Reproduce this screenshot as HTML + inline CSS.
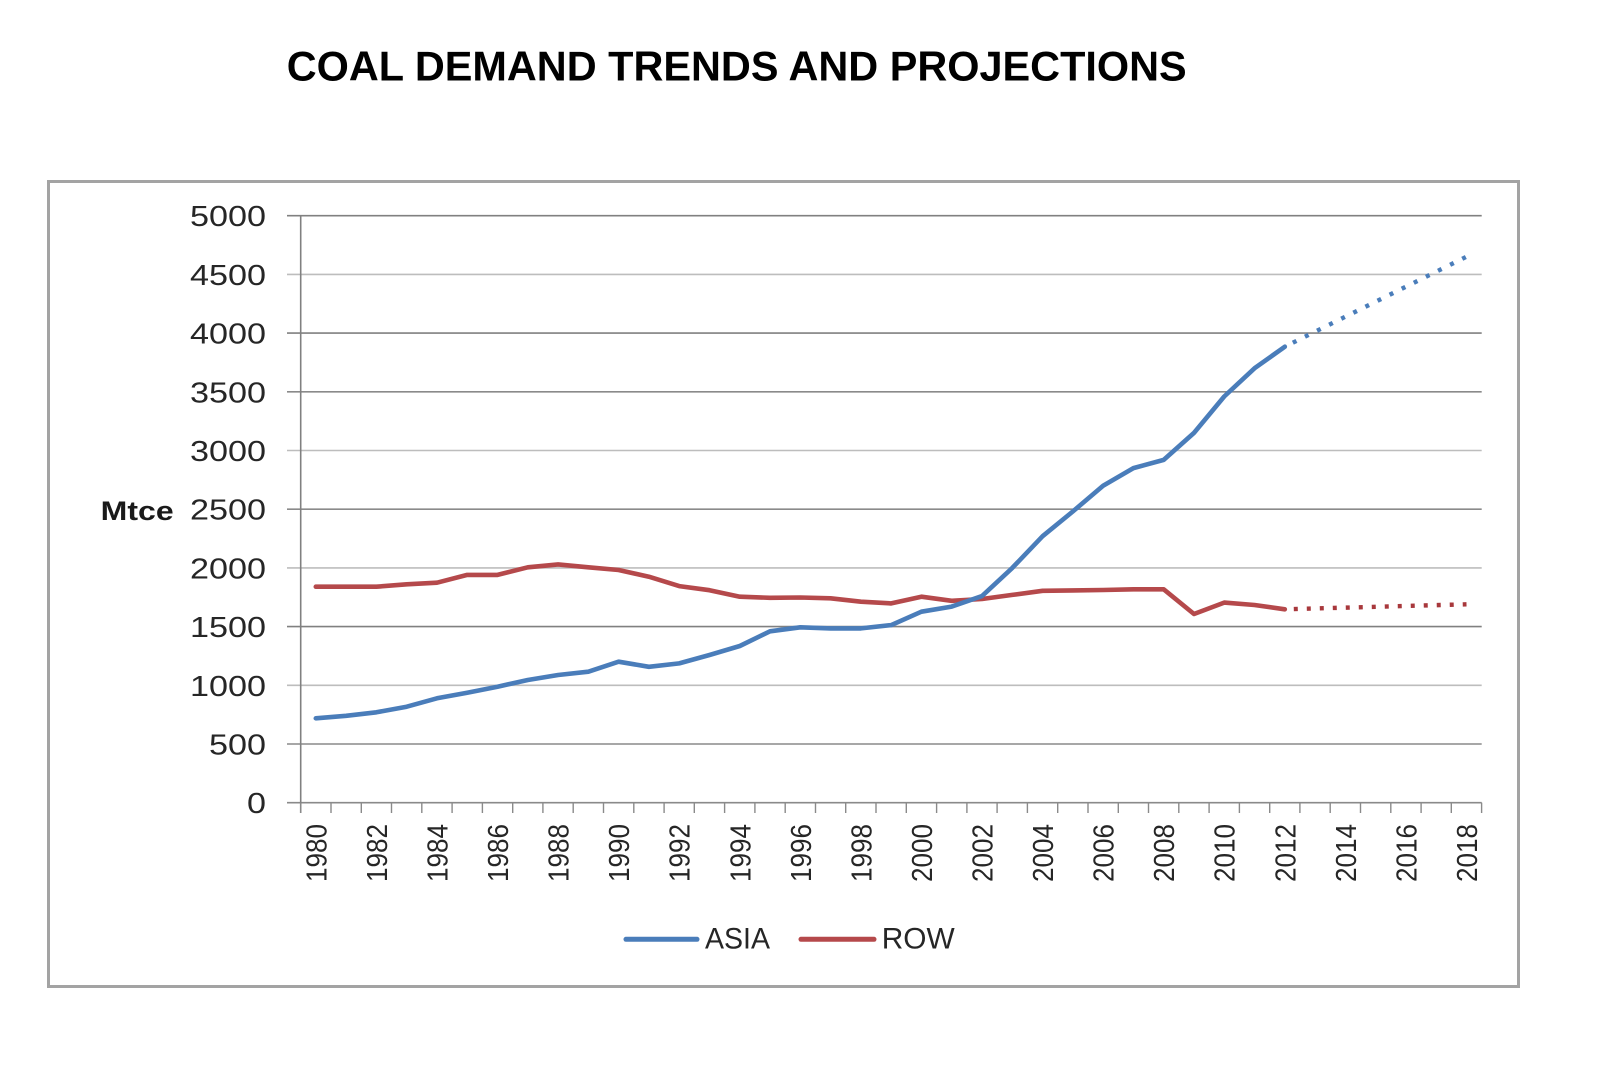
<!DOCTYPE html>
<html>
<head>
<meta charset="utf-8">
<style>
  html, body { margin:0; padding:0; background:#ffffff; }
  svg { display:block; }
  .lbl { font-family:"Liberation Sans", "DejaVu Sans", sans-serif; fill:#262626; }
</style>
</head>
<body>
<svg width="1600" height="1066" viewBox="0 0 1600 1066" xmlns="http://www.w3.org/2000/svg">
  <rect x="0" y="0" width="1600" height="1066" fill="#ffffff"/>

  <text x="286.7" y="80.7" font-family="Liberation Sans, Arial, sans-serif" font-weight="bold" font-size="42" fill="#000" textLength="900" lengthAdjust="spacingAndGlyphs">COAL DEMAND TRENDS AND PROJECTIONS</text>

  <rect x="48.5" y="181.5" width="1470" height="805" fill="#ffffff" stroke="#a3a3a3" stroke-width="3"/>

  <g stroke-width="1.6">
    <line x1="287" y1="215.7" x2="1481.7" y2="215.7" stroke="#808080"/>
    <line x1="287" y1="274.4" x2="1481.7" y2="274.4" stroke="#bdbdbd"/>
    <line x1="287" y1="333.1" x2="1481.7" y2="333.1" stroke="#808080"/>
    <line x1="287" y1="391.8" x2="1481.7" y2="391.8" stroke="#8a8a8a"/>
    <line x1="287" y1="450.5" x2="1481.7" y2="450.5" stroke="#bdbdbd"/>
    <line x1="287" y1="509.2" x2="1481.7" y2="509.2" stroke="#8a8a8a"/>
    <line x1="287" y1="567.9" x2="1481.7" y2="567.9" stroke="#bdbdbd"/>
    <line x1="287" y1="626.6" x2="1481.7" y2="626.6" stroke="#808080"/>
    <line x1="287" y1="685.3" x2="1481.7" y2="685.3" stroke="#bdbdbd"/>
    <line x1="287" y1="744.0" x2="1481.7" y2="744.0" stroke="#8a8a8a"/>
    <line x1="287" y1="802.7" x2="1481.7" y2="802.7" stroke="#8a8a8a"/>
  </g>
  <line x1="300.7" y1="215.7" x2="300.7" y2="813" stroke="#808080" stroke-width="1.6"/>

  <g stroke="#8a8a8a" stroke-width="1.4">
    <line x1="300.7" y1="802.7" x2="300.7" y2="813"/>
    <line x1="331.0" y1="802.7" x2="331.0" y2="813"/>
    <line x1="361.3" y1="802.7" x2="361.3" y2="813"/>
    <line x1="391.5" y1="802.7" x2="391.5" y2="813"/>
    <line x1="421.8" y1="802.7" x2="421.8" y2="813"/>
    <line x1="452.1" y1="802.7" x2="452.1" y2="813"/>
    <line x1="482.4" y1="802.7" x2="482.4" y2="813"/>
    <line x1="512.7" y1="802.7" x2="512.7" y2="813"/>
    <line x1="542.9" y1="802.7" x2="542.9" y2="813"/>
    <line x1="573.2" y1="802.7" x2="573.2" y2="813"/>
    <line x1="603.5" y1="802.7" x2="603.5" y2="813"/>
    <line x1="633.8" y1="802.7" x2="633.8" y2="813"/>
    <line x1="664.1" y1="802.7" x2="664.1" y2="813"/>
    <line x1="694.3" y1="802.7" x2="694.3" y2="813"/>
    <line x1="724.6" y1="802.7" x2="724.6" y2="813"/>
    <line x1="754.9" y1="802.7" x2="754.9" y2="813"/>
    <line x1="785.2" y1="802.7" x2="785.2" y2="813"/>
    <line x1="815.5" y1="802.7" x2="815.5" y2="813"/>
    <line x1="845.7" y1="802.7" x2="845.7" y2="813"/>
    <line x1="876.0" y1="802.7" x2="876.0" y2="813"/>
    <line x1="906.3" y1="802.7" x2="906.3" y2="813"/>
    <line x1="936.6" y1="802.7" x2="936.6" y2="813"/>
    <line x1="966.9" y1="802.7" x2="966.9" y2="813"/>
    <line x1="997.1" y1="802.7" x2="997.1" y2="813"/>
    <line x1="1027.4" y1="802.7" x2="1027.4" y2="813"/>
    <line x1="1057.7" y1="802.7" x2="1057.7" y2="813"/>
    <line x1="1088.0" y1="802.7" x2="1088.0" y2="813"/>
    <line x1="1118.3" y1="802.7" x2="1118.3" y2="813"/>
    <line x1="1148.5" y1="802.7" x2="1148.5" y2="813"/>
    <line x1="1178.8" y1="802.7" x2="1178.8" y2="813"/>
    <line x1="1209.1" y1="802.7" x2="1209.1" y2="813"/>
    <line x1="1239.4" y1="802.7" x2="1239.4" y2="813"/>
    <line x1="1269.7" y1="802.7" x2="1269.7" y2="813"/>
    <line x1="1299.9" y1="802.7" x2="1299.9" y2="813"/>
    <line x1="1330.2" y1="802.7" x2="1330.2" y2="813"/>
    <line x1="1360.5" y1="802.7" x2="1360.5" y2="813"/>
    <line x1="1390.8" y1="802.7" x2="1390.8" y2="813"/>
    <line x1="1421.1" y1="802.7" x2="1421.1" y2="813"/>
    <line x1="1451.3" y1="802.7" x2="1451.3" y2="813"/>
    <line x1="1481.6" y1="802.7" x2="1481.6" y2="813"/>
  </g>

  <g class="lbl" font-size="29" text-anchor="end">
    <text x="266" y="226.2" textLength="76" lengthAdjust="spacingAndGlyphs">5000</text>
    <text x="266" y="284.9" textLength="76" lengthAdjust="spacingAndGlyphs">4500</text>
    <text x="266" y="343.6" textLength="76" lengthAdjust="spacingAndGlyphs">4000</text>
    <text x="266" y="402.3" textLength="76" lengthAdjust="spacingAndGlyphs">3500</text>
    <text x="266" y="461.0" textLength="76" lengthAdjust="spacingAndGlyphs">3000</text>
    <text x="266" y="519.7" textLength="76" lengthAdjust="spacingAndGlyphs">2500</text>
    <text x="266" y="578.4" textLength="76" lengthAdjust="spacingAndGlyphs">2000</text>
    <text x="266" y="637.1" textLength="76" lengthAdjust="spacingAndGlyphs">1500</text>
    <text x="266" y="695.8" textLength="76" lengthAdjust="spacingAndGlyphs">1000</text>
    <text x="266" y="754.5" textLength="57" lengthAdjust="spacingAndGlyphs">500</text>
    <text x="266" y="813.2" textLength="19" lengthAdjust="spacingAndGlyphs">0</text>
  </g>

  <text x="100.7" y="520" font-family="Liberation Sans, DejaVu Sans, sans-serif" font-weight="bold" font-size="27" fill="#1a1a1a" textLength="73" lengthAdjust="spacingAndGlyphs">Mtce</text>

  <g class="lbl" font-size="29" text-anchor="end">
    <text transform="translate(326.3,824) rotate(-90)" textLength="58" lengthAdjust="spacingAndGlyphs">1980</text>
    <text transform="translate(386.9,824) rotate(-90)" textLength="58" lengthAdjust="spacingAndGlyphs">1982</text>
    <text transform="translate(447.5,824) rotate(-90)" textLength="58" lengthAdjust="spacingAndGlyphs">1984</text>
    <text transform="translate(508.0,824) rotate(-90)" textLength="58" lengthAdjust="spacingAndGlyphs">1986</text>
    <text transform="translate(568.6,824) rotate(-90)" textLength="58" lengthAdjust="spacingAndGlyphs">1988</text>
    <text transform="translate(629.1,824) rotate(-90)" textLength="58" lengthAdjust="spacingAndGlyphs">1990</text>
    <text transform="translate(689.7,824) rotate(-90)" textLength="58" lengthAdjust="spacingAndGlyphs">1992</text>
    <text transform="translate(750.3,824) rotate(-90)" textLength="58" lengthAdjust="spacingAndGlyphs">1994</text>
    <text transform="translate(810.8,824) rotate(-90)" textLength="58" lengthAdjust="spacingAndGlyphs">1996</text>
    <text transform="translate(871.4,824) rotate(-90)" textLength="58" lengthAdjust="spacingAndGlyphs">1998</text>
    <text transform="translate(931.9,824) rotate(-90)" textLength="58" lengthAdjust="spacingAndGlyphs">2000</text>
    <text transform="translate(992.5,824) rotate(-90)" textLength="58" lengthAdjust="spacingAndGlyphs">2002</text>
    <text transform="translate(1053.1,824) rotate(-90)" textLength="58" lengthAdjust="spacingAndGlyphs">2004</text>
    <text transform="translate(1113.6,824) rotate(-90)" textLength="58" lengthAdjust="spacingAndGlyphs">2006</text>
    <text transform="translate(1174.2,824) rotate(-90)" textLength="58" lengthAdjust="spacingAndGlyphs">2008</text>
    <text transform="translate(1234.7,824) rotate(-90)" textLength="58" lengthAdjust="spacingAndGlyphs">2010</text>
    <text transform="translate(1295.3,824) rotate(-90)" textLength="58" lengthAdjust="spacingAndGlyphs">2012</text>
    <text transform="translate(1355.9,824) rotate(-90)" textLength="58" lengthAdjust="spacingAndGlyphs">2014</text>
    <text transform="translate(1416.4,824) rotate(-90)" textLength="58" lengthAdjust="spacingAndGlyphs">2016</text>
    <text transform="translate(1477.0,824) rotate(-90)" textLength="58" lengthAdjust="spacingAndGlyphs">2018</text>
  </g>

  <polyline fill="none" stroke="#B5494B" stroke-width="4.6" stroke-linejoin="round" stroke-linecap="round"
    points="315.8,586.7 346.1,586.7 376.4,586.7 406.7,584.3 437.0,582.7 467.2,574.9 497.5,574.9 527.8,567.3 558.1,564.4 588.4,567.3 618.6,570.0 648.9,576.7 679.2,586.1 709.5,590.2 739.8,596.7 770.0,597.8 800.3,597.5 830.6,598.3 860.9,601.7 891.2,603.4 921.4,596.7 951.7,600.8 982.0,599.0 1012.3,594.9 1042.6,590.8 1072.8,590.4 1103.1,590.0 1133.4,589.3 1163.7,589.3 1194.0,614.0 1224.2,602.6 1254.5,605.0 1284.8,609.3"/>
  <line x1="1284.8" y1="609.3" x2="1466.5" y2="604.3" stroke="#A8383C" stroke-width="4.4" stroke-dasharray="4 9" stroke-dashoffset="-9"/>

  <polyline fill="none" stroke="#4A7DBA" stroke-width="4.6" stroke-linejoin="round" stroke-linecap="round"
    points="315.8,718.3 346.1,715.8 376.4,712.3 406.7,706.7 437.0,698.3 467.2,692.7 497.5,686.7 527.8,680.0 558.1,675.0 588.4,671.7 618.6,661.7 648.9,666.8 679.2,663.4 709.5,655.0 739.8,646.0 770.0,631.3 800.3,627.3 830.6,628.4 860.9,628.4 891.2,625.1 921.4,611.7 951.7,606.6 982.0,596.1 1012.3,567.9 1042.6,536.2 1072.8,511.5 1103.1,485.7 1133.4,468.1 1163.7,459.9 1194.0,432.9 1224.2,396.5 1254.5,368.3 1284.8,346.7"/>
  <line x1="1284.8" y1="346.7" x2="1466.5" y2="256.7" stroke="#4A7DBA" stroke-width="4.4" stroke-dasharray="4 9.5" stroke-dashoffset="-9"/>

  <line x1="626" y1="939.3" x2="697" y2="939.3" stroke="#4A7DBA" stroke-width="5" stroke-linecap="round"/>
  <text class="lbl" x="705" y="948.3" font-size="30" textLength="65" lengthAdjust="spacingAndGlyphs">ASIA</text>
  <line x1="801" y1="939.3" x2="874" y2="939.3" stroke="#B5494B" stroke-width="5" stroke-linecap="round"/>
  <text class="lbl" x="881.7" y="948.3" font-size="30" textLength="73" lengthAdjust="spacingAndGlyphs">ROW</text>
</svg>
</body>
</html>
